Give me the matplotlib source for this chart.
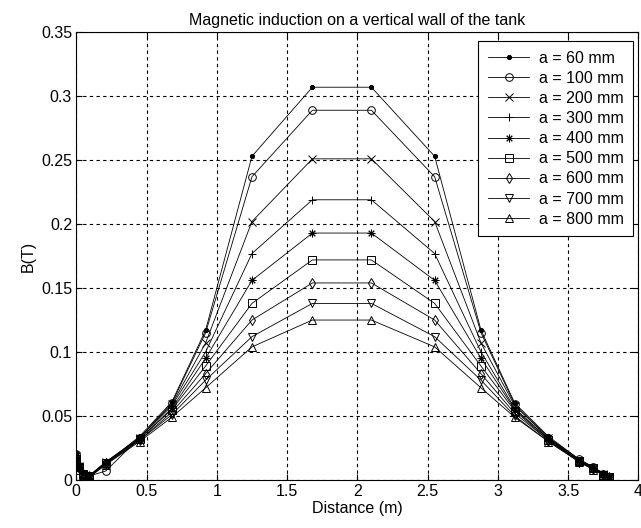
import matplotlib
matplotlib.use("Agg")
import matplotlib.pyplot as plt

plt.rcParams['font.family'] = ['Liberation Sans', 'DejaVu Sans']

# distance along the wall (m)
distancia = [0.0, 0.02, 0.05, 0.09, 0.21, 0.45, 0.68, 0.92, 1.25, 1.68,
             2.1, 2.55, 2.88, 3.12, 3.36, 3.58, 3.68, 3.75, 3.79]

rotulos = ["a = 60 mm", "a = 100 mm", "a = 200 mm", "a = 300 mm", "a = 400 mm",
           "a = 500 mm", "a = 600 mm", "a = 700 mm", "a = 800 mm"]
# '*' do matlab = asterisco de 8 bracos
marcadores = ['.', 'o', 'x', '+', (8, 2, 0), 's', 'd', 'v', '^']

b_60 = [0.021, 0.012, 0.006, 0.003, 0.013, 0.034, 0.061, 0.117, 0.253, 0.307,
        0.307, 0.253, 0.117, 0.060, 0.034, 0.016, 0.010, 0.005, 0.002]
b_100 = [0.020, 0.011, 0.005, 0.003, 0.007, 0.033, 0.060, 0.115, 0.237, 0.289,
         0.289, 0.237, 0.115, 0.059, 0.033, 0.016, 0.010, 0.005, 0.002]
b_200 = [0.019, 0.011, 0.005, 0.003, 0.014, 0.033, 0.059, 0.107, 0.202, 0.251,
         0.251, 0.202, 0.107, 0.058, 0.033, 0.015, 0.009, 0.005, 0.002]
b_300 = [0.018, 0.010, 0.005, 0.003, 0.014, 0.033, 0.058, 0.100, 0.177, 0.219,
         0.219, 0.177, 0.100, 0.056, 0.032, 0.015, 0.009, 0.005, 0.002]
b_400 = [0.017, 0.010, 0.005, 0.003, 0.014, 0.032, 0.056, 0.095, 0.156, 0.193,
         0.193, 0.156, 0.095, 0.055, 0.032, 0.015, 0.009, 0.005, 0.002]
b_500 = [0.016, 0.010, 0.005, 0.003, 0.013, 0.032, 0.055, 0.089, 0.138, 0.172,
         0.172, 0.138, 0.089, 0.054, 0.031, 0.015, 0.009, 0.004, 0.002]
b_600 = [0.015, 0.009, 0.005, 0.003, 0.013, 0.031, 0.053, 0.083, 0.125, 0.154,
         0.154, 0.125, 0.083, 0.052, 0.031, 0.014, 0.009, 0.004, 0.002]
b_700 = [0.014, 0.009, 0.004, 0.002, 0.012, 0.031, 0.051, 0.078, 0.112, 0.138,
         0.138, 0.112, 0.078, 0.050, 0.030, 0.014, 0.008, 0.004, 0.002]
b_800 = [0.013, 0.008, 0.004, 0.002, 0.012, 0.030, 0.049, 0.072, 0.104, 0.125,
         0.125, 0.104, 0.072, 0.049, 0.030, 0.014, 0.008, 0.004, 0.001]

series = [b_60, b_100, b_200, b_300, b_400, b_500, b_600, b_700, b_800]

fig = plt.figure(figsize=(6.41, 5.28), dpi=100)
ax = fig.add_axes([0.119, 0.091, 0.877, 0.848])

for valores, m, rot in zip(series, marcadores, rotulos):
    if m == '.':
        estilo = dict(markersize=6, markerfacecolor='k')
    else:
        estilo = dict(markersize=5.5, markerfacecolor='none')
    ax.plot(distancia, valores, color='k', linewidth=0.6, marker=m,
            markeredgecolor='k', markeredgewidth=0.7, label=rot, **estilo)

ax.set_xlim(0, 4)
ax.set_ylim(0, 0.35)
ax.set_xticks([0, 0.5, 1, 1.5, 2, 2.5, 3, 3.5, 4])
ax.set_xticklabels(['0', '0.5', '1', '1.5', '2', '2.5', '3', '3.5', '4'])
ax.set_yticks([0, 0.05, 0.1, 0.15, 0.2, 0.25, 0.3, 0.35])
ax.set_yticklabels(['0', '0.05', '0.1', '0.15', '0.2', '0.25', '0.3', '0.35'])
ax.grid(True, color='k', linestyle=(0, (3, 3)), linewidth=0.8)
ax.tick_params(direction='in', top=True, right=True, labelsize=11.5, length=4,
               pad=3)
for s in ax.spines.values():
    s.set_linewidth(0.8)

ax.set_title("Magnetic induction on a vertical wall of the tank", fontsize=11.5,
             pad=5)
ax.set_xlabel("Distance (m)", fontsize=11.5, labelpad=1)
ax.set_ylabel("B(T)", fontsize=11.5, labelpad=4)

leg = ax.legend(loc='upper right', bbox_to_anchor=(0.991, 0.98), fontsize=11.5,
                fancybox=False, framealpha=1, edgecolor='k', handlelength=2.6,
                borderaxespad=0.0, labelspacing=0.32, borderpad=0.6,
                handletextpad=0.6)
leg.get_frame().set_linewidth(0.8)

fig.savefig("out.png", dpi=100)
